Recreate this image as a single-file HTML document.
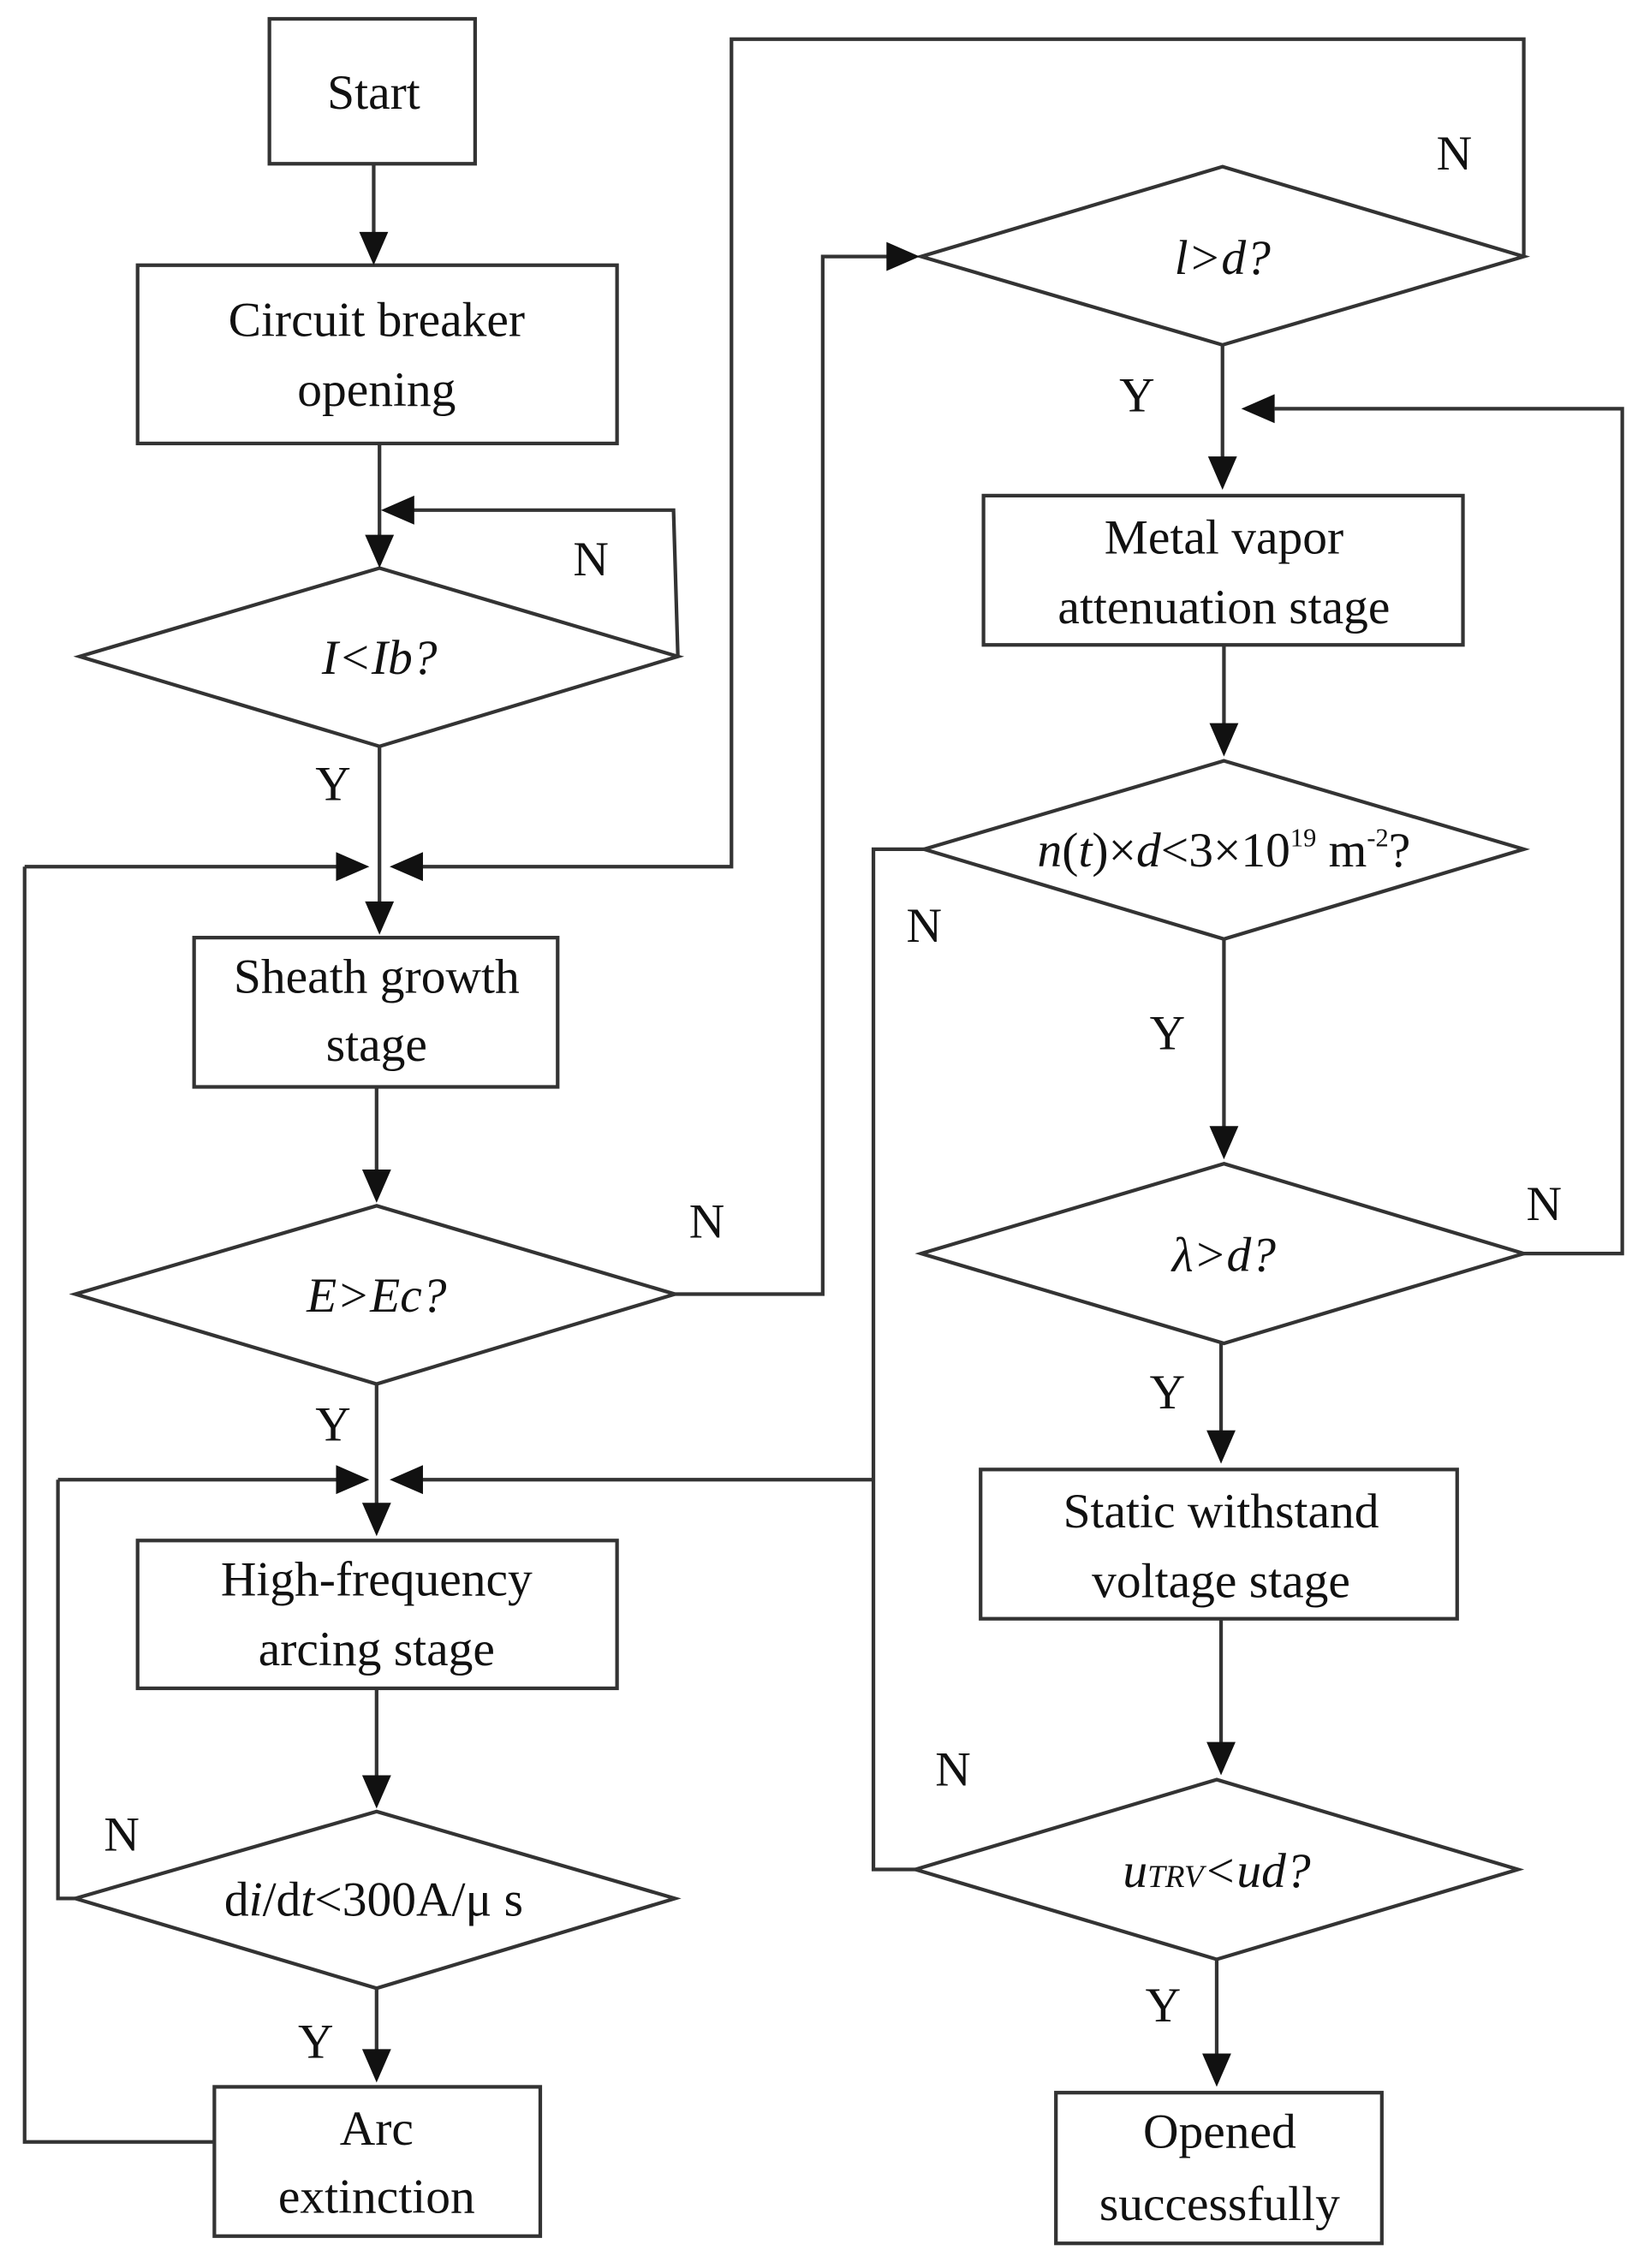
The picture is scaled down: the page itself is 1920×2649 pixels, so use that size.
<!DOCTYPE html>
<html><head><meta charset="utf-8"><style>
html,body{margin:0;padding:0;background:#fff;}
svg{display:block;}
text{font-family:"Liberation Serif",serif;font-size:34px;fill:#111;text-anchor:middle;}
</style></head><body>
<svg width="1920" height="2649" viewBox="0 0 1135 1565" preserveAspectRatio="none" xmlns="http://www.w3.org/2000/svg">
<g fill="none" stroke="#333" stroke-width="2.5">
<rect x="186" y="13" width="142" height="100"/>
<rect x="95" y="183" width="331" height="123"/>
<rect x="134" y="647" width="251" height="103"/>
<rect x="95" y="1063" width="331" height="102"/>
<rect x="148" y="1440" width="225" height="103"/>
<rect x="679" y="342" width="331" height="103"/>
<rect x="677" y="1014" width="329" height="103"/>
<rect x="729" y="1444" width="225" height="104"/>
<polygon points="262,392 468,453 262,515 55,453"/>
<polygon points="260,832 466,893 260,955 52,893"/>
<polygon points="260,1250 466,1310 260,1372 52,1310"/>
<polygon points="844,115 1052,177 844,238 636,177"/>
<polygon points="845,525 1052,586 845,648 638,586"/>
<polygon points="845,803 1052,865 845,927 636,865"/>
<polygon points="840,1228 1048,1290 840,1352 632,1290"/>
<polyline points="258,113 258,163"/>
<polyline points="262,306 262,372"/>
<polyline points="468,453 465,352 280,352"/>
<polyline points="262,515 262,625"/>
<polyline points="17,598 235,598"/>
<polyline points="17,598 17,1478 148,1478"/>
<polyline points="290,598 505,598 505,27 1052,27 1052,177"/>
<polyline points="260,750 260,810"/>
<polyline points="466,893 568,893 568,177 615,177"/>
<polyline points="260,955 260,1040"/>
<polyline points="40,1021 235,1021"/>
<polyline points="40,1021 40,1310 52,1310"/>
<polyline points="290,1021 603,1021"/>
<polyline points="638,586 603,586 603,1290 632,1290"/>
<polyline points="260,1165 260,1228"/>
<polyline points="260,1372 260,1417"/>
<polyline points="844,238 844,318"/>
<polyline points="1052,865 1120,865 1120,282 880,282"/>
<polyline points="845,445 845,502"/>
<polyline points="845,648 845,780"/>
<polyline points="843,927 843,990"/>
<polyline points="843,1117 843,1205"/>
<polyline points="840,1352 840,1420"/>
</g>
<g fill="#111">
<polygon points="248,160 268,160 258,183"/>
<polygon points="252,369 272,369 262,392"/>
<polygon points="252,622 272,622 262,645"/>
<polygon points="250,807 270,807 260,830"/>
<polygon points="250,1037 270,1037 260,1060"/>
<polygon points="250,1225 270,1225 260,1248"/>
<polygon points="250,1414 270,1414 260,1437"/>
<polygon points="834,315 854,315 844,338"/>
<polygon points="835,499 855,499 845,522"/>
<polygon points="835,777 855,777 845,800"/>
<polygon points="833,987 853,987 843,1010"/>
<polygon points="833,1202 853,1202 843,1225"/>
<polygon points="830,1417 850,1417 840,1440"/>
<polygon points="286,342 286,362 263,352"/>
<polygon points="232,588 232,608 255,598"/>
<polygon points="292,588 292,608 269,598"/>
<polygon points="232,1011 232,1031 255,1021"/>
<polygon points="292,1011 292,1031 269,1021"/>
<polygon points="612,167 612,187 635,177"/>
<polygon points="880,272 880,292 857,282"/>
</g>
<text x="258" y="75">Start</text>
<text x="260" y="232">Circuit breaker</text>
<text x="260" y="280">opening</text>
<text x="262" y="465" font-style="italic">I&lt;Ib?</text>
<text x="408" y="397">N</text>
<text x="230" y="552">Y</text>
<text x="260" y="685">Sheath growth</text>
<text x="260" y="732">stage</text>
<text x="260" y="905" font-style="italic">E&gt;Ec?</text>
<text x="488" y="854">N</text>
<text x="230" y="994">Y</text>
<text x="260" y="1101">High-frequency</text>
<text x="260" y="1149">arcing stage</text>
<text x="258" y="1322">d<tspan font-style="italic">i</tspan>/d<tspan font-style="italic">t</tspan>&lt;300A/μ s</text>
<text x="84" y="1277">N</text>
<text x="218" y="1420">Y</text>
<text x="260" y="1480">Arc</text>
<text x="260" y="1527">extinction</text>
<text x="844" y="189" font-style="italic">l&gt;d?</text>
<text x="1004" y="117">N</text>
<text x="785" y="284">Y</text>
<text x="845" y="382">Metal vapor</text>
<text x="845" y="430">attenuation stage</text>
<text x="845" y="598" font-size="32"><tspan font-style="italic">n</tspan>(<tspan font-style="italic">t</tspan>)×<tspan font-style="italic">d</tspan>&lt;3×10<tspan font-size="18" dy="-14">19</tspan><tspan dy="14"> m</tspan><tspan font-size="18" dy="-14">-2</tspan><tspan dy="14">?</tspan></text>
<text x="638" y="650">N</text>
<text x="806" y="724">Y</text>
<text x="845" y="877" font-style="italic">λ&gt;d?</text>
<text x="1066" y="842">N</text>
<text x="806" y="972">Y</text>
<text x="843" y="1054">Static withstand</text>
<text x="843" y="1102">voltage stage</text>
<text x="840" y="1302" font-style="italic">u<tspan font-size="22">TRV</tspan>&lt;ud?</text>
<text x="658" y="1232">N</text>
<text x="803" y="1395">Y</text>
<text x="842" y="1482">Opened</text>
<text x="842" y="1532">successfully</text>
</svg>
</body></html>
